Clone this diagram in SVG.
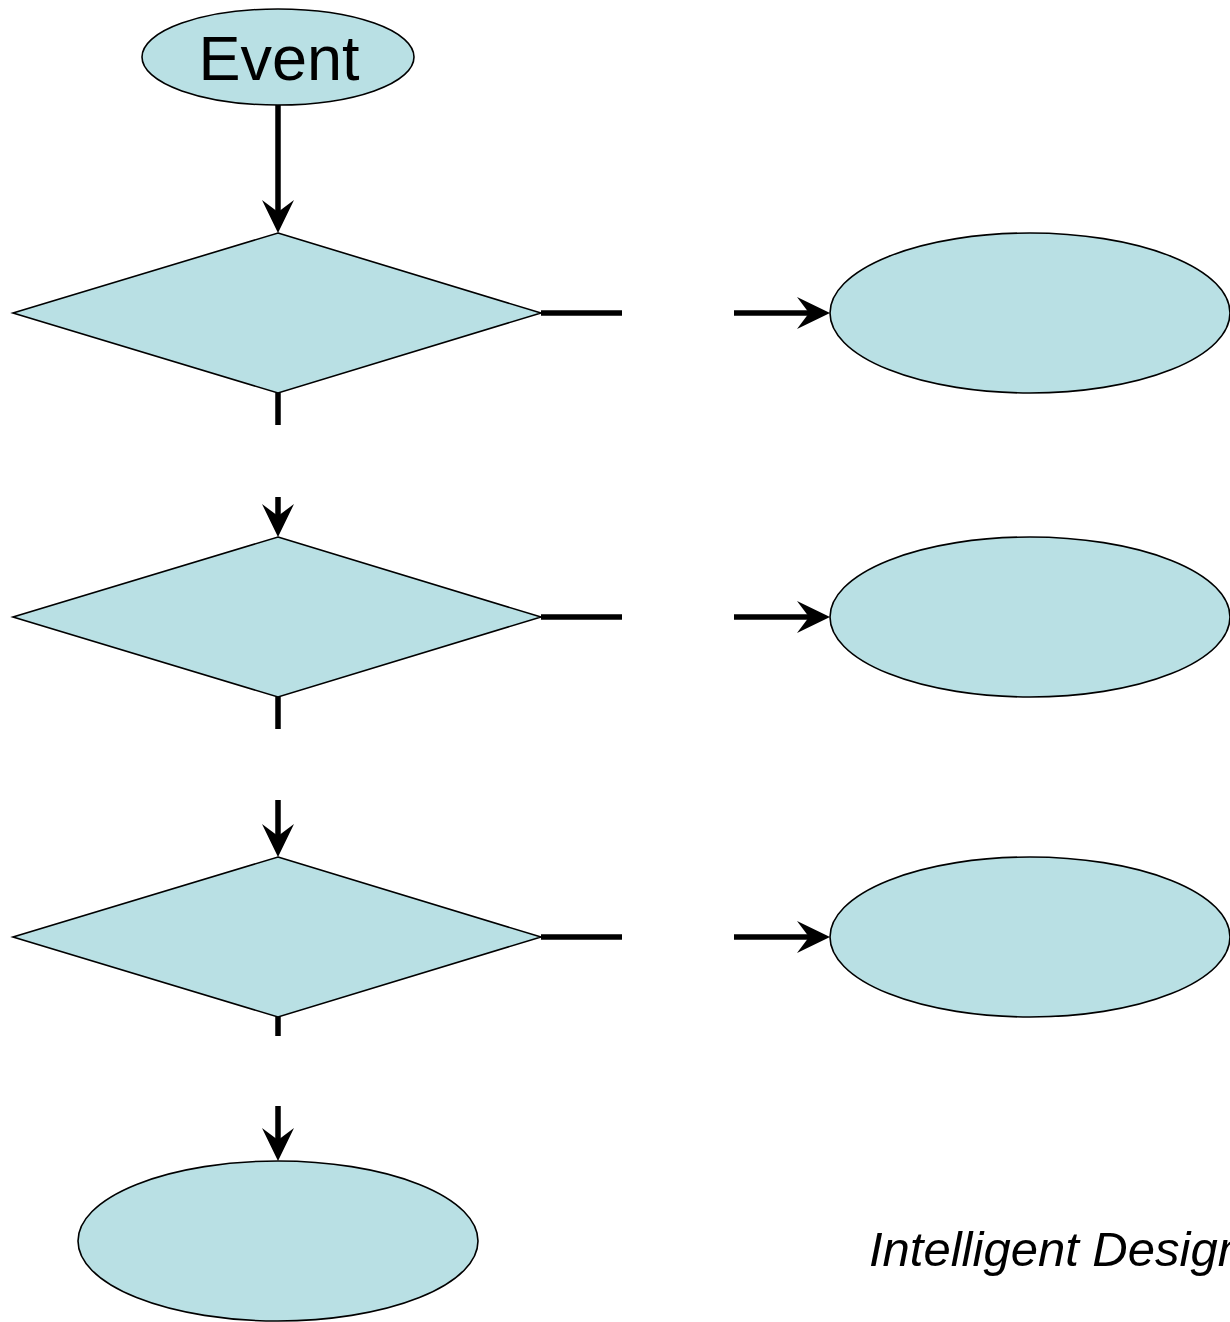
<svg xmlns="http://www.w3.org/2000/svg" width="1230" height="1322" viewBox="0 0 1230 1322">
<style>
.shape{fill:#B9E0E4;stroke:#000;stroke-width:1.6}
.conn{stroke:#000;stroke-width:5.5;fill:none}
.arr{marker-end:url(#ah)}
</style>
<defs>
<marker id="ah" markerUnits="userSpaceOnUse" markerWidth="40" markerHeight="40" refX="0" refY="0" orient="auto" overflow="visible">
<path d="M12,0 L-21,-16 L-9,0 L-21,16 Z" fill="#000"/>
</marker>
</defs>
<rect width="1230" height="1322" fill="#fff"/>
<g id="connectors">
<line class="conn arr" x1="278" y1="105" x2="278" y2="221"/>
<line class="conn" x1="278" y1="393" x2="278" y2="425"/>
<line class="conn arr" x1="278" y1="497" x2="278" y2="525"/>
<line class="conn" x1="278" y1="697" x2="278" y2="729"/>
<line class="conn arr" x1="278" y1="800" x2="278" y2="845"/>
<line class="conn" x1="278" y1="1017" x2="278" y2="1036"/>
<line class="conn arr" x1="278" y1="1106" x2="278" y2="1149"/>
<line class="conn" x1="541" y1="313" x2="622" y2="313"/>
<line class="conn arr" x1="734" y1="313" x2="818" y2="313"/>
<line class="conn" x1="541" y1="617" x2="622" y2="617"/>
<line class="conn arr" x1="734" y1="617" x2="818" y2="617"/>
<line class="conn" x1="541" y1="937" x2="622" y2="937"/>
<line class="conn arr" x1="734" y1="937" x2="818" y2="937"/>
</g>
<g id="event">
<ellipse class="shape" cx="278" cy="57" rx="136" ry="48"/>
<text x="279" y="80" font-family="Liberation Sans, Arial, sans-serif" font-size="63" text-anchor="middle">Event</text>
</g>
<g id="decision1"><polygon class="shape" points="278,233 541,313 278,393 13,313"/></g>
<g id="decision2"><polygon class="shape" points="278,537 541,617 278,697 13,617"/></g>
<g id="decision3"><polygon class="shape" points="278,857 541,937 278,1017 13,937"/></g>
<g id="result1"><ellipse class="shape" cx="1030" cy="313" rx="200" ry="80"/></g>
<g id="result2"><ellipse class="shape" cx="1030" cy="617" rx="200" ry="80"/></g>
<g id="result3"><ellipse class="shape" cx="1030" cy="937" rx="200" ry="80"/></g>
<g id="result4"><ellipse class="shape" cx="278" cy="1241" rx="200" ry="80"/></g>
<g id="caption">
<text x="869" y="1266" font-family="Liberation Sans, Arial, sans-serif" font-size="49" font-style="italic">Intelligent Design</text>
</g>
</svg>
